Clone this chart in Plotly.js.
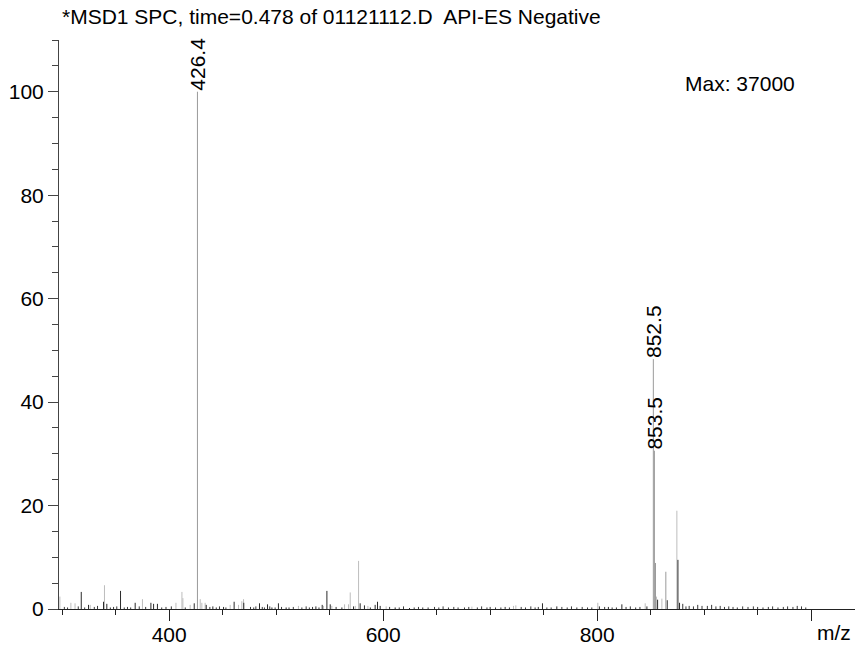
<!DOCTYPE html>
<html>
<head>
<meta charset="utf-8">
<script src="https://cdn.plot.ly/plotly-3.0.1.min.js"></script>
<style>html,body{margin:0;padding:0;background:#fff;}#chart{width:861px;height:645px;}</style>
</head>
<body>
<div id="chart"></div>
<script>
// Major labelled peaks (m/z, relative abundance %)
var majorMz = [426.4, 852.5, 853.5, 854.5, 864.2];
var majorAb = [100, 48.3, 30.6, 8.9, 7.2];

// Light grey sticks
var lightMz = [297.8, 308.1, 312.0, 326.2, 339.5, 375.0, 406.3, 411.9, 412.8, 419.6, 429.0, 430.5, 433.6, 457.0, 464.8, 467.9, 469.5, 520.8, 544.2, 552.0, 563.9, 567.6, 569.2, 573.9, 577.0, 585.7, 602.8, 682.9, 721.8, 724.0, 800.6, 844.9, 855.5, 860.5, 874.5];
var lightAb = [2.4, 1.2, 1.1, 0.8, 4.6, 1.9, 1.2, 3.3, 2.1, 0.8, 1.9, 1.2, 1.2, 0.8, 0.8, 1.5, 1.9, 0.6, 0.6, 0.6, 0.9, 0.9, 3.2, 0.6, 9.3, 0.6, 0.5, 0.45, 0.6, 0.7, 1.2, 1.1, 2.4, 2.0, 19.0];

// Dark sticks
var darkMz = [317.8, 324.6, 338.6, 341.7, 354.5, 368.2, 382.9, 385.4, 389.0, 423.4, 434.6, 440.8, 450.8, 460.7, 469.7, 484.4, 491.9, 496.0, 502.1, 509.3, 537.1, 543.0, 547.4, 550.5, 561.4, 572.3, 578.5, 582.5, 592.5, 594.7, 597.2, 611.2, 624.6, 748.9, 762.3, 802.1, 810.5, 823.1, 846.5, 856.5, 865.5, 875.5, 877.0];
var darkAb = [3.3, 0.8, 1.4, 1.0, 3.5, 1.2, 1.2, 1.0, 1.0, 1.1, 0.8, 0.5, 0.4, 1.4, 1.2, 1.1, 0.9, 0.3, 1.1, 0.3, 0.5, 0.8, 3.5, 0.9, 0.3, 0.5, 1.1, 0.7, 0.8, 1.4, 0.6, 0.3, 0.2, 1.1, 0.5, 0.5, 0.4, 0.9, 0.5, 1.8, 1.7, 9.5, 1.2];

// Baseline noise sticks
var noiseMz = [302, 305, 315, 321, 330, 333, 345, 348, 351, 358, 361, 364, 372, 378, 393, 397, 402, 415, 438, 444, 447, 453, 476, 479, 481, 487, 489, 494, 499, 505, 512, 516, 524, 528, 531, 534, 540, 556, 588, 606, 615, 619, 629, 633, 637, 642, 648, 652, 656, 661, 666, 670, 676, 680, 688, 692, 697, 700, 705, 710, 714, 718, 729, 733, 738, 742, 745, 753, 757, 767, 772, 776, 781, 786, 791, 795, 807, 814, 818, 827, 831, 836, 840, 880, 883, 886, 890, 894, 898, 903, 907, 911, 915, 919, 923, 927, 931, 936, 941, 946, 950, 955, 960, 964, 969, 974, 978, 983, 987, 991, 995];
var noiseAb = [0.4, 0.3, 0.5, 0.3, 0.4, 0.6, 0.3, 0.4, 0.5, 0.3, 0.4, 0.3, 0.5, 0.4, 0.3, 0.4, 0.5, 0.3, 0.4, 0.3, 0.5, 0.3, 0.4, 0.3, 0.5, 0.4, 0.3, 0.5, 0.3, 0.4, 0.3, 0.4, 0.3, 0.5, 0.3, 0.4, 0.3, 0.4, 0.3, 0.4, 0.3, 0.5, 0.3, 0.4, 0.3, 0.3, 0.4, 0.3, 0.5, 0.3, 0.4, 0.3, 0.3, 0.4, 0.3, 0.5, 0.3, 0.4, 0.3, 0.3, 0.4, 0.3, 0.4, 0.3, 0.5, 0.3, 0.4, 0.3, 0.3, 0.4, 0.3, 0.5, 0.3, 0.4, 0.3, 0.3, 0.4, 0.3, 0.3, 0.4, 0.5, 0.3, 0.4, 1.0, 0.5, 0.6, 0.5, 0.8, 0.6, 0.6, 0.8, 0.5, 0.6, 0.4, 0.5, 0.4, 0.3, 0.5, 0.4, 0.5, 0.4, 0.3, 0.4, 0.5, 0.3, 0.4, 0.5, 0.4, 0.6, 0.5, 0.3];

// Peak labels
var labelMz = [426.4, 852.5, 853.5];
var labelAb = [100, 48.3, 30.6];
var labelText = ['426.4', '852.5', '853.5'];

var titleText = '*MSD1 SPC, time=0.478 of 01121112.D  API-ES Negative';
var maxText = 'Max: 37000';
var xTickVals = [400, 600, 800, 1000];
var xTickText = ['400', '600', '800', ''];

function sticks(xs, ys) {
  var X = [], Y = [];
  for (var i = 0; i < xs.length; i++) {
    X.push(xs[i], xs[i], null);
    Y.push(0, ys[i], null);
  }
  return {x: X, y: Y};
}

function stickTrace(xs, ys, color) {
  var s = sticks(xs, ys);
  return {
    type: 'scatter', mode: 'lines', x: s.x, y: s.y,
    line: {color: color, width: 1}, hoverinfo: 'skip', showlegend: false,
    connectgaps: false
  };
}

var FONT = 'Liberation Sans, Arial, sans-serif';
var FS = 21;

var traces = [
  stickTrace(noiseMz, noiseAb, '#3a3a3a'),
  stickTrace(lightMz, lightAb, '#bdbdbd'),
  stickTrace(darkMz, darkAb, '#2a2a2a'),
  stickTrace(majorMz, majorAb, '#9a9a9a')
];

var annotations = labelMz.map(function (m, i) {
  return {
    x: m, y: labelAb[i], xref: 'x', yref: 'y', text: labelText[i],
    textangle: -90, showarrow: false, xanchor: 'center', yanchor: 'bottom',
    font: {family: FONT, size: FS, color: '#000'}, borderpad: 0
  };
});
annotations.push({
  x: 0.856, y: 0.9244, xref: 'paper', yref: 'paper', text: maxText,
  showarrow: false, xanchor: 'center', yanchor: 'middle',
  font: {family: FONT, size: FS, color: '#000'}
});
annotations.push({
  x: 0.996, y: -0.041, xref: 'paper', yref: 'paper', text: 'm/z',
  showarrow: false, xanchor: 'right', yanchor: 'middle', borderpad: 0,
  font: {family: FONT, size: FS, color: '#000'}
});

var layout = {
  width: 861, height: 645,
  margin: {l: 59, r: 6, t: 40, b: 36, pad: 0},
  paper_bgcolor: '#fff', plot_bgcolor: '#fff',
  font: {family: FONT, size: FS, color: '#000'},
  showlegend: false,
  title: {
    text: titleText, xref: 'container', yref: 'container',
    x: 62 / 861, xanchor: 'left', y: 1 - 17 / 645, yanchor: 'middle',
    font: {family: FONT, size: FS, color: '#000'}
  },
  xaxis: {
    range: [297, 1041], showgrid: false, zeroline: false,
    showline: true, linecolor: '#222', linewidth: 1,
    ticks: 'outside', ticklen: 11, tickcolor: '#222', tickwidth: 1,
    tickmode: 'array', tickvals: xTickVals, ticktext: xTickText,
    ticklabelstandoff: -4,
    tickfont: {family: FONT, size: FS, color: '#000'},
    minor: {tickmode: 'linear', tick0: 300, dtick: 50, ticklen: 5, ticks: 'outside', tickcolor: '#222'}
  },
  yaxis: {
    range: [0, 110], showgrid: false, zeroline: false,
    showline: true, linecolor: '#444', linewidth: 1,
    ticks: 'outside', ticklen: 10, tickcolor: '#444', tickwidth: 1,
    tickmode: 'linear', tick0: 0, dtick: 20,
    tickfont: {family: FONT, size: FS, color: '#000'},
    minor: {tickmode: 'linear', tick0: 0, dtick: 5, ticklen: 6, ticks: 'outside', tickcolor: '#444'}
  },
  annotations: annotations
};

Plotly.newPlot('chart', traces, layout, {staticPlot: true, displayModeBar: false});
</script>
</body>
</html>
